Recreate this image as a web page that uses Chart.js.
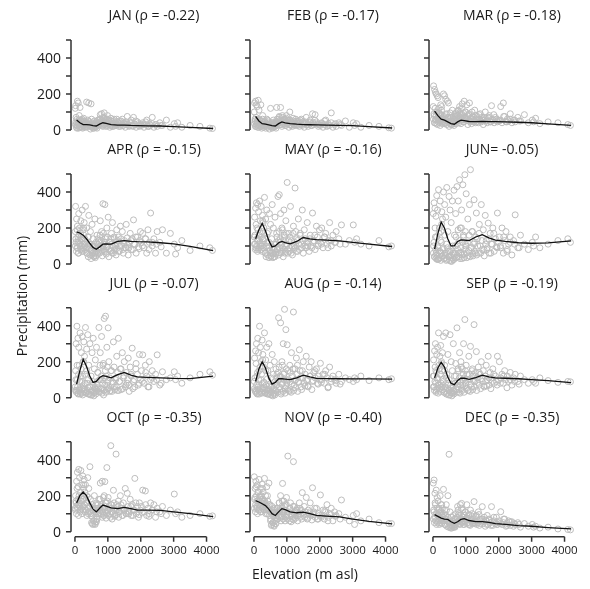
<!DOCTYPE html>
<html>
<head>
<meta charset="utf-8">
<script src="https://cdn.jsdelivr.net/npm/chart.js@4"></script>
<style>
  body { margin: 0; background: #fff; }
  #wrap { position: relative; width: 590px; height: 589px; }
  #wrap canvas { position: absolute; left: 0; top: 0; }
</style>
</head>
<body>
<div id="wrap"></div>
<script>
// station elevations (m asl), shared by every month
const elevation = [
  10,20,35,50,60,75,90,100,115,130,140,155,170,180,195,210,220,235,250,260,270,280,290,300,
  320,340,355,370,390,405,420,440,455,470,490,505,520,540,555,570,590,605,620,640,655,670,690,710,
  730,750,770,790,810,830,850,870,890,910,930,950,970,990,1010,1030,1060,1090,1110,1140,1170,1200,1220,1250,1270,1290,
  1320,1350,1380,1410,1440,1470,1500,1530,1560,1590,1620,1650,1680,1710,1740,1780,1820,1860,1900,1930,1960,1990,
  2020,2060,2100,2140,2180,2220,2260,2300,2350,2400,2450,2500,2580,2660,2780,2900,
  3020,3060,3120,3250,3500,3800,4100,4180,
  15,30,45,65,80,95,110,125,145,160,185,200,215,230,245,265,285,310,330,360,385,410,435,460,485,
  510,530,550,575,600,615,635,650,680,700,720,745,765,785,805,825,845,865,885,905,925,945,965,985,1000,
  1020,1050,1080,1100,1130,1160,1190,1210,1240,1260,1300,1330,1360,1400,1450,1490,1550,1600,
  1640,1700,1760,1800,1850,1950,2050,2150,2250,2350,2480,2620
];

// monthly precipitation (mm) per station
const jan = [
  120,135,70,25,10,160,45,150,30,80,15,125,35,55,20,40,60,10,30,50,25,45,15,35,
  20,40,155,35,55,30,150,45,25,5,145,60,20,40,10,25,50,15,30,20,45,10,35,25,
  40,60,85,30,90,50,20,70,95,45,35,60,25,80,40,55,15,65,30,45,20,50,35,25,60,30,
  30,50,20,40,60,25,35,15,45,75,30,20,40,55,25,70,30,15,45,35,20,30,
  25,40,15,30,55,20,35,25,70,15,30,20,40,25,55,15,
  35,20,40,15,25,20,10,8,
  30,45,15,60,25,40,10,55,35,20,50,30,15,45,25,65,35,20,40,15,30,50,25,35,20,
  15,25,35,10,20,30,15,25,40,55,30,45,60,35,50,25,40,70,30,45,55,20,35,60,40,
  30,45,25,50,20,35,60,25,40,30,45,20,35,50,25,40,30,35,
  25,40,20,35,50,25,30,45,20,35,30,25
];
const feb = [
  100,150,60,160,20,140,40,130,25,165,15,110,35,50,20,140,30,10,45,60,25,40,15,30,
  25,45,10,35,60,30,15,50,25,5,30,120,20,40,10,25,55,15,30,20,45,10,125,25,
  40,60,75,30,125,50,20,70,45,55,35,60,25,80,40,55,15,100,30,45,20,50,35,25,60,30,
  30,50,20,40,60,25,35,15,45,70,30,20,40,55,25,90,30,85,45,35,20,30,
  25,40,15,30,55,20,35,25,95,15,30,20,40,25,50,15,
  40,25,35,15,25,20,12,10,
  35,50,20,70,30,45,15,60,40,25,55,35,20,50,30,80,40,25,45,20,35,55,30,40,25,
  20,30,40,15,25,35,20,30,45,60,35,50,70,40,55,30,45,80,35,50,60,25,40,65,45,
  35,50,30,55,25,40,65,30,45,35,50,25,40,55,30,45,35,40,
  30,45,25,40,55,30,35,50,25,40,35,30
];
const mar = [
  130,245,80,225,40,210,60,200,100,190,30,180,70,120,50,90,25,140,60,110,45,80,35,55,
  200,60,190,40,170,85,30,160,65,150,20,45,95,70,30,55,110,40,75,25,60,90,45,35,
  50,80,105,40,130,65,35,90,145,60,45,160,70,100,55,140,30,85,150,50,35,75,60,45,110,40,
  55,75,40,60,90,45,55,30,70,100,50,40,65,80,45,135,55,40,70,60,45,55,
  50,130,40,150,75,45,60,50,90,40,55,45,70,50,85,40,
  55,45,65,35,45,40,30,25,
  60,90,40,120,55,80,35,100,70,45,95,60,40,85,50,130,65,45,75,35,55,90,50,70,45,
  35,50,70,30,45,60,35,50,75,95,55,80,110,60,90,50,70,120,55,80,95,45,65,100,70,
  55,80,50,90,45,65,100,50,70,55,80,45,60,85,50,70,55,65,
  50,70,45,60,85,50,55,75,45,60,55,50
];
const apr = [
  180,320,120,250,90,210,150,60,280,130,200,100,170,240,80,140,300,110,190,70,160,230,100,140,
  320,90,200,60,150,40,270,110,50,180,30,80,220,60,140,45,100,250,35,120,70,160,55,90,
  130,60,240,90,180,45,335,110,70,330,150,55,200,95,260,40,120,75,170,230,60,140,100,50,190,110,
  150,70,210,100,180,60,130,90,220,145,50,120,170,80,140,245,110,60,150,95,130,180,
  120,170,90,140,60,190,120,283,100,140,60,180,120,190,60,170,
  110,55,90,130,75,100,90,75,
  100,140,70,190,90,120,60,160,110,80,150,100,70,130,90,200,110,80,120,60,95,150,85,110,75,
  50,70,100,40,60,85,45,70,110,140,80,120,160,90,130,70,100,170,80,120,140,65,95,150,105,
  80,120,70,140,60,95,150,75,110,85,130,70,100,140,80,115,90,105,
  90,130,80,110,150,85,100,140,80,120,110,95
];
const may = [
  150,260,110,310,90,340,200,130,330,80,290,160,350,120,240,100,320,180,70,270,140,230,90,200,
  370,60,250,40,300,120,50,180,35,280,75,220,45,140,330,60,200,90,40,260,110,55,170,80,
  375,50,385,120,280,60,200,90,40,300,150,70,240,110,453,60,170,90,320,130,50,210,100,422,180,70,
  130,250,80,170,110,300,60,190,140,90,230,120,70,160,100,283,130,80,210,150,110,190,
  120,200,90,150,170,110,130,230,100,160,120,180,140,217,110,130,
  217,120,140,110,100,130,95,100,
  110,160,80,220,100,140,70,190,130,90,170,110,80,150,100,240,130,90,140,60,100,170,90,120,70,
  40,60,90,35,55,80,40,65,110,150,80,130,180,90,140,70,110,190,80,130,160,60,100,170,110,
  80,130,70,150,60,100,170,80,120,90,140,70,110,160,90,130,100,120,
  100,140,90,120,160,100,110,150,90,130,120,110
];
const jun = [
  280,100,340,40,310,150,265,60,380,25,300,90,413,30,200,70,350,20,180,120,290,45,250,80,
  400,30,330,60,260,20,425,90,180,40,375,70,300,15,230,50,350,100,25,410,160,60,280,35,
  430,80,350,40,468,200,65,300,30,440,150,55,496,110,390,35,250,75,330,524,90,180,45,357,120,60,
  283,140,60,220,100,330,80,190,45,270,130,90,227,60,170,110,200,70,140,95,283,120,
  150,90,200,60,130,180,80,110,150,50,130,273,90,160,110,80,
  120,100,150,90,110,130,140,120,
  60,120,40,200,80,30,150,50,100,25,170,70,35,130,60,220,45,90,30,160,50,110,25,70,40,
  20,45,80,15,35,60,25,50,100,150,40,110,190,60,130,30,90,200,50,120,160,35,80,180,100,
  60,120,45,160,40,90,180,55,110,70,150,50,100,170,60,130,80,110,
  80,140,60,110,170,90,100,150,70,120,110,90
];
const jul = [
  60,150,300,40,397,100,330,20,280,180,50,360,120,30,250,90,340,15,200,70,310,45,230,130,
  390,30,270,80,350,20,180,60,300,15,120,40,250,90,330,25,160,55,210,35,280,70,140,50,
  390,30,250,100,340,45,180,15,440,70,453,120,280,50,388,200,35,550,150,90,310,60,539,110,230,40,
  330,90,160,45,250,110,200,60,140,80,220,35,170,120,275,90,60,190,130,70,240,100,
  150,238,80,180,120,60,200,100,150,90,130,238,70,144,100,110,
  144,100,120,80,110,130,144,125,
  40,100,30,180,60,25,130,40,90,20,160,50,25,120,50,200,35,80,25,150,40,100,20,60,30,
  15,35,70,10,30,50,20,45,90,140,35,100,180,50,120,25,80,190,40,110,150,30,70,170,90,
  50,110,40,150,35,80,170,45,100,60,140,40,90,160,50,120,70,100,
  70,130,50,100,160,80,90,140,60,110,100,80
];
const aug = [
  90,220,40,260,30,300,120,20,330,60,250,150,397,35,280,100,200,25,320,80,240,50,170,60,
  360,30,210,70,280,20,150,45,300,25,180,60,110,30,240,50,130,20,200,90,40,160,70,110,
  140,444,60,120,416,30,200,80,300,130,491,50,378,100,294,150,40,180,90,250,120,476,70,160,100,220,
  180,90,266,110,60,150,200,80,130,230,100,60,170,120,200,90,140,110,160,80,120,100,
  191,100,130,80,150,110,60,170,90,120,100,80,130,90,110,100,
  90,110,100,120,95,110,100,105,
  50,110,35,190,70,25,140,45,100,20,170,60,30,130,50,210,40,85,25,150,45,105,20,65,35,
  15,30,60,10,25,45,15,40,80,130,30,95,170,45,115,20,75,180,35,100,140,25,65,160,85,
  45,100,35,140,30,75,160,40,95,55,130,35,85,150,45,110,65,95,
  65,120,45,95,150,75,85,130,55,105,95,75
];
const sep = [
  120,210,60,260,90,300,150,40,240,110,280,70,360,180,50,230,130,290,80,200,150,60,250,100,
  340,30,180,60,360,20,130,50,240,15,100,40,350,70,200,25,150,55,300,35,120,80,190,45,
  388,60,150,30,250,90,200,50,160,70,300,110,434,80,180,130,40,230,100,285,60,160,120,406,90,140,
  256,110,170,70,130,200,90,150,60,120,180,100,230,70,140,110,160,80,120,90,230,100,
  200,110,130,80,150,100,120,90,140,70,110,130,90,120,100,80,
  100,90,80,110,95,85,90,88,
  60,120,40,170,80,30,140,50,100,25,160,70,35,130,60,190,45,90,30,150,50,110,25,70,40,
  15,30,55,10,25,40,20,35,80,120,30,90,160,45,110,25,70,170,40,100,130,30,65,150,85,
  50,100,40,130,35,75,150,45,95,60,120,40,85,140,50,105,65,90,
  65,110,50,90,130,70,80,120,55,100,90,75
];
const oct = [
  130,200,160,280,140,330,180,250,346,150,300,120,220,340,170,260,200,310,140,240,180,290,150,220,
  260,120,200,160,300,100,240,140,361,180,90,50,150,40,120,60,200,45,110,55,160,70,130,100,
  180,120,270,100,150,280,130,90,200,278,110,160,356,120,190,140,100,478,150,110,230,130,90,431,150,120,
  170,110,200,130,90,160,120,240,100,213,140,110,180,90,150,120,296,100,140,80,160,120,
  140,231,110,226,90,130,100,160,120,150,80,130,110,140,90,120,
  209,100,110,80,90,100,85,88,
  120,170,100,240,130,150,90,200,140,110,190,130,100,180,120,260,150,110,160,90,130,190,110,140,100,
  85,45,130,60,100,40,150,55,110,150,90,130,180,100,140,80,110,190,90,130,160,75,100,170,115,
  90,130,80,150,70,100,160,85,120,95,140,80,110,150,90,125,100,115,
  100,140,90,120,160,95,105,150,85,120,110,100
];
const nov = [
  305,180,240,150,280,200,130,260,170,220,120,290,190,150,240,110,200,160,263,130,180,220,140,170,
  296,150,200,120,250,100,170,130,270,90,150,60,110,40,140,50,100,35,120,60,80,45,110,70,
  130,90,160,110,200,80,140,268,100,170,120,150,80,190,110,420,90,130,160,100,70,389,140,110,90,120,
  130,100,160,80,120,217,90,140,110,190,70,120,100,160,90,244,110,80,130,70,100,90,
  204,90,120,70,110,150,80,100,130,60,110,90,100,176,80,60,
  90,40,100,60,70,50,45,45,
  130,190,110,250,140,170,100,220,150,120,200,140,110,180,130,240,160,120,170,100,140,200,120,150,110,
  70,35,110,50,85,30,130,45,90,130,70,110,160,80,120,60,90,170,70,110,140,60,85,150,95,
  70,110,60,130,55,85,140,65,100,75,120,60,90,130,70,105,80,95,
  75,110,65,95,130,70,80,115,60,95,85,70
];
const dec = [
  270,120,287,80,213,150,60,231,100,190,50,170,90,130,40,110,200,70,150,45,100,60,130,80,
  235,60,120,40,90,150,30,70,200,25,430,50,110,20,80,35,60,45,90,30,70,25,50,40,
  80,140,60,100,45,150,70,157,55,120,40,90,60,110,75,150,50,95,40,120,65,85,50,167,60,45,
  90,50,110,35,70,60,139,45,80,30,60,90,40,70,50,139,35,60,45,80,40,50,
  60,111,40,50,70,30,45,60,35,55,30,40,50,25,45,30,
  40,25,30,20,25,15,12,10,
  70,110,50,160,80,100,40,130,90,60,120,80,50,110,70,150,90,60,100,40,70,120,60,80,50,
  25,35,50,20,30,45,25,40,70,100,50,80,120,60,90,40,65,130,50,80,100,40,60,110,70,
  45,75,40,90,35,60,100,45,70,50,85,40,60,95,45,70,55,65,
  40,65,35,55,80,40,45,70,35,55,45,40
];

// smoothed curve per month, sampled at lineElev
const lineElev = [50,150,250,350,450,550,650,750,850,950,1100,1300,1500,1700,1900,2200,2600,3000,3500,4200];
const janLine = [55,40,30,30,28,24,22,32,40,37,30,27,27,25,24,23,22,18,14,8];
const febLine = [75,50,35,32,28,24,22,35,45,40,35,32,30,29,28,27,26,24,18,11];
const marLine = [105,80,60,55,45,35,32,45,55,52,47,46,47,46,46,45,43,40,34,26];
const aprLine = [178,172,160,140,115,92,82,95,110,112,110,125,130,126,124,123,118,112,98,74];
const mayLine = [140,190,225,185,130,95,100,118,125,118,112,125,147,140,135,132,128,120,110,97];
const junLine = [82,170,232,200,140,100,100,125,134,133,130,150,163,145,133,125,118,115,117,128];
const julLine = [75,150,213,175,120,85,90,112,122,118,110,128,140,125,116,113,110,107,106,120];
const augLine = [90,160,200,165,110,75,85,105,105,103,100,110,125,115,107,106,105,104,104,103];
const sepLine = [110,165,197,170,115,80,72,95,108,108,102,112,125,115,110,108,105,100,95,84];
const octLine = [160,200,220,200,160,125,110,130,148,142,132,128,135,128,120,120,118,110,100,83];
const novLine = [172,165,155,145,125,100,90,110,128,122,110,105,108,100,90,86,82,70,57,43];
const decLine = [95,85,75,70,68,55,46,55,68,72,62,56,56,52,45,40,34,30,23,15];

const months = ['JAN','FEB','MAR','APR','MAY','JUN','JUL','AUG','SEP','OCT','NOV','DEC'];
const rho = ['-0.22','-0.17','-0.18','-0.15','-0.16','-0.05','-0.07','-0.14','-0.19','-0.35','-0.40','-0.35'];
const titles = ['JAN (ρ = -0.22)','FEB (ρ = -0.17)','MAR (ρ = -0.18)','APR (ρ = -0.15)','MAY (ρ = -0.16)','JUN= -0.05)',
                'JUL (ρ = -0.07)','AUG (ρ = -0.14)','SEP (ρ = -0.19)','OCT (ρ = -0.35)','NOV (ρ = -0.40)','DEC (ρ = -0.35)'];
const yTicks = [0,100,200,300,400,500];
const yLabels = [0,200,400];
const xTicks = [0,1000,2000,3000,4000];

const precip = [jan,feb,mar,apr,may,jun,jul,aug,sep,oct,nov,dec];
const lines = [janLine,febLine,marLine,aprLine,mayLine,junLine,julLine,augLine,sepLine,octLine,novLine,decLine];

const W = 590, H = 589;
const colLeft = [71, 250, 429];
const rowTop = [40, 174, 307.7, 441.7];
const plotW = 145.4, plotH = 95;
const FONT = '"Open Sans", "Noto Sans", sans-serif';

const panelAxes = {
  id: 'panelAxes',
  afterDraw(chart, args, opts) {
    const { ctx, chartArea: a } = chart;
    const x = chart.scales.x, y = chart.scales.y;
    ctx.save();
    ctx.strokeStyle = '#333';
    ctx.lineWidth = 1.5;
    ctx.fillStyle = '#1a1a1a';

    ctx.beginPath();
    ctx.moveTo(a.left, y.getPixelForValue(0));
    ctx.lineTo(a.left, y.getPixelForValue(500));
    yTicks.forEach(v => {
      const py = y.getPixelForValue(v);
      ctx.moveTo(a.left - 5, py);
      ctx.lineTo(a.left, py);
    });
    ctx.stroke();

    if (opts.col === 0) {
      ctx.font = '14px ' + FONT;
      ctx.textAlign = 'right';
      ctx.textBaseline = 'middle';
      yLabels.forEach(v => ctx.fillText(String(v), a.left - 10, y.getPixelForValue(v) + 1));
    }

    if (opts.row === 3) {
      ctx.beginPath();
      ctx.moveTo(x.getPixelForValue(0), a.bottom);
      ctx.lineTo(x.getPixelForValue(4000), a.bottom);
      xTicks.forEach(v => {
        const px = x.getPixelForValue(v);
        ctx.moveTo(px, a.bottom);
        ctx.lineTo(px, a.bottom + 5);
      });
      ctx.stroke();
      ctx.font = '11.5px ' + FONT;
      ctx.textAlign = 'center';
      ctx.textBaseline = 'middle';
      xTicks.forEach(v => ctx.fillText(String(v), x.getPixelForValue(v), a.bottom + 14));
    }

    // panel title, placed as if it read "MMM (ρ = r)"
    ctx.font = '14px ' + FONT;
    ctx.textAlign = 'left';
    ctx.textBaseline = 'middle';
    const full = opts.month + ' (ρ = ' + opts.rho + ')';
    const left = a.left + 83 - ctx.measureText(full).width / 2;
    ctx.fillText(opts.title, left, a.top - 24);

    if (opts.axisTitles) {
      ctx.textAlign = 'center';
      ctx.fillText('Elevation (m asl)', 305, 575);
      ctx.translate(23, 296);
      ctx.rotate(-Math.PI / 2);
      ctx.fillText('Precipitation (mm)', 0, 0);
    }
    ctx.restore();
  }
};

const wrap = document.getElementById('wrap');

months.forEach((m, i) => {
  const row = Math.floor(i / 3), col = i % 3;
  const canvas = document.createElement('canvas');
  canvas.width = W;
  canvas.height = H;
  wrap.appendChild(canvas);

  const points = elevation.map((e, k) => ({ x: e, y: precip[i][k] }));
  const curve = lineElev.map((e, k) => ({ x: e, y: lines[i][k] }));

  new Chart(canvas.getContext('2d'), {
    type: 'scatter',
    data: {
      datasets: [
        {
          data: curve,
          showLine: true,
          borderColor: '#111',
          borderWidth: 1.3,
          pointRadius: 0,
          tension: 0,
          clip: false,
          order: 0
        },
        {
          data: points,
          pointRadius: 3,
          pointBorderWidth: 1,
          borderColor: '#bdbdbd',
          backgroundColor: 'rgba(0,0,0,0)',
          clip: false,
          order: 1
        }
      ]
    },
    options: {
      responsive: false,
      animation: false,
      events: [],
      layout: {
        padding: {
          left: colLeft[col],
          right: W - colLeft[col] - plotW,
          top: rowTop[row],
          bottom: H - rowTop[row] - plotH
        }
      },
      scales: {
        x: { type: 'linear', min: -120, max: 4300, display: false },
        y: { type: 'linear', min: -28, max: 500, display: false }
      },
      plugins: {
        legend: { display: false },
        tooltip: { enabled: false },
        panelAxes: {
          row: row,
          col: col,
          month: m,
          rho: rho[i],
          title: titles[i],
          axisTitles: i === 0
        }
      }
    },
    plugins: [panelAxes]
  });
});
</script>
</body>
</html>
